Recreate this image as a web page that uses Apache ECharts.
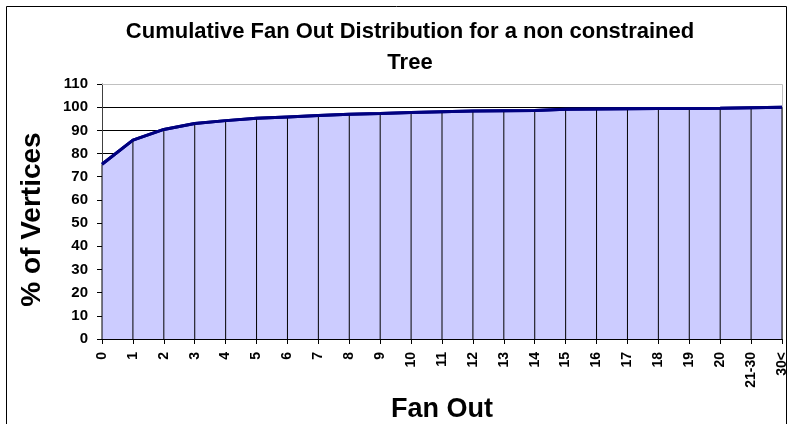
<!DOCTYPE html>
<html>
<head>
<meta charset="utf-8">
<script src="https://cdn.jsdelivr.net/npm/echarts@6/dist/echarts.min.js"></script>
<style>
  html, body { margin: 0; padding: 0; background: #fff; }
  #chart { width: 791px; height: 424px; }
</style>
</head>
<body>
<div id="chart"></div>
<script>
// Fan-out buckets and the cumulative share of vertices (%) up to each one
const categories = ['0', '1', '2', '3', '4', '5', '6', '7', '8', '9', '10', '11', '12',
  '13', '14', '15', '16', '17', '18', '19', '20', '21-30', '30<'];
const cumulativePct = [75.4, 85.8, 90.4, 93.0, 94.2, 95.2, 95.8, 96.4, 97.0, 97.3, 97.7, 98.0,
  98.3, 98.5, 98.6, 99.1, 99.2, 99.3, 99.4, 99.4, 99.5, 99.8, 100];
const yTicks = [0, 110, 10]; // min, max, step

const FONT = 'Liberation Sans, Arial, sans-serif';
const chart = echarts.init(document.getElementById('chart'));

const gridBox = { left: 102, right: 9, top: 84, bottom: 85, outerBoundsMode: 'none', containLabel: false };
const splitColors = new Array(11).fill('#000000').concat(['#c0c0c0']);

chart.setOption({
  animation: false,
  backgroundColor: '#ffffff',
  title: {
    text: 'Cumulative Fan Out Distribution for a non constrained\nTree',
    left: 405,
    textAlign: 'center',
    top: 11,
    textStyle: { fontFamily: FONT, fontWeight: 'bold', fontSize: 22, color: '#000', lineHeight: 31 }
  },
  grid: gridBox,
  xAxis: {
    type: 'category',
    data: categories,
    boundaryGap: false,
    axisLine: { lineStyle: { color: '#000', width: 1 } },
    axisTick: { show: true, length: 5, lineStyle: { color: '#000' } },
    axisLabel: { rotate: 90, interval: 0, margin: 13, fontFamily: FONT, fontWeight: 'bold', fontSize: 14, color: '#000' },
    splitLine: { show: false },
    name: 'Fan Out',
    nameLocation: 'middle',
    nameGap: 47,
    nameTextStyle: { fontFamily: FONT, fontWeight: 'bold', fontSize: 27, color: '#000', lineHeight: 16 }
  },
  yAxis: {
    type: 'value',
    min: yTicks[0],
    max: yTicks[1],
    interval: yTicks[2],
    axisLine: { show: true, lineStyle: { color: '#404040', width: 1 } },
    axisTick: { show: true, length: 5, lineStyle: { color: '#000' } },
    axisLabel: { margin: 14, fontFamily: FONT, fontWeight: 'bold', fontSize: 15, color: '#000' },
    splitLine: { show: true, lineStyle: { color: splitColors, width: 1 } },
    name: '% of Vertices',
    nameLocation: 'middle',
    nameGap: 56,
    nameRotate: 90,
    nameTextStyle: { fontFamily: FONT, fontWeight: 'bold', fontSize: 28, color: '#000', padding: [0, 16, 0, 0] }
  },
  graphic: [
    {
      type: 'rect',
      shape: { x: 6.5, y: 6.5, width: 780, height: 440 },
      style: { fill: null, stroke: '#000', lineWidth: 1 },
      silent: true, z: -10
    },
    {
      type: 'polyline',
      shape: { points: [[102, 84.5], [782.5, 84.5], [782.5, 339]] },
      style: { fill: null, stroke: '#c0c0c0', lineWidth: 1 },
      silent: true, z: 1
    }
  ],
  series: [
    {
      type: 'line',
      data: cumulativePct,
      symbol: 'none',
      lineStyle: { color: '#000080', width: 3 },
      areaStyle: { color: '#ccccff', opacity: 1 },
      z: 2
    },
    {
      // drop lines from each point down to the axis
      type: 'bar',
      data: cumulativePct,
      barWidth: 1,
      itemStyle: { color: '#000' },
      z: 3
    },
    {
      // outline redrawn on top of the drop lines
      type: 'line',
      data: cumulativePct,
      symbol: 'none',
      lineStyle: { color: '#000080', width: 3 },
      z: 4
    }
  ]
});
</script>
</body>
</html>
